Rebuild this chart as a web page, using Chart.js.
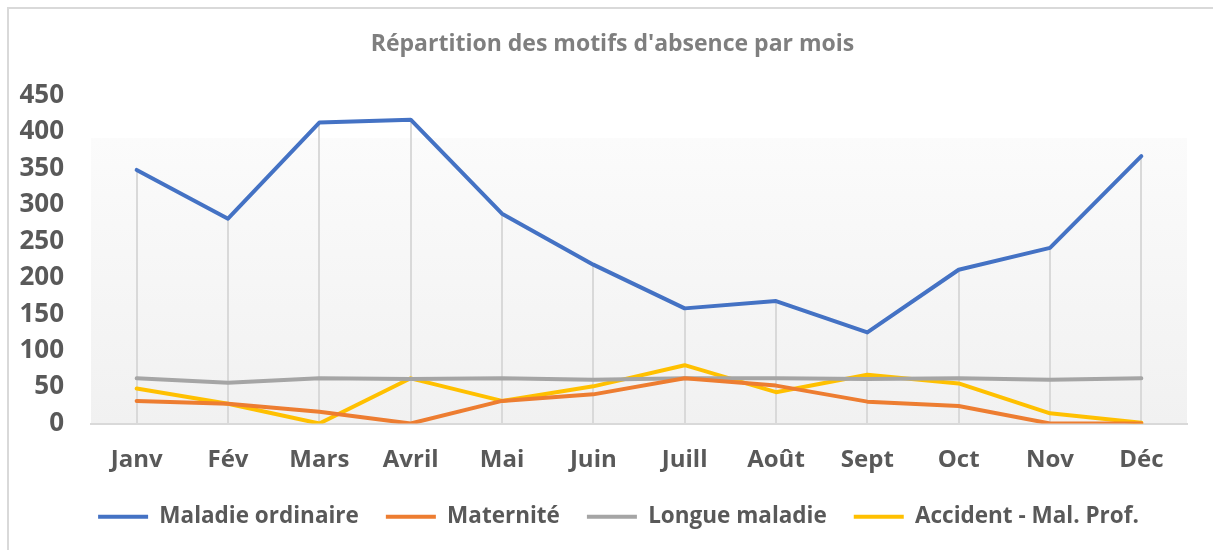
<!DOCTYPE html>
<html lang="fr">
<head>
<meta charset="utf-8">
<title>Répartition des motifs d'absence par mois</title>
<script src="https://cdn.jsdelivr.net/npm/chart.js@4.4.1/dist/chart.umd.min.js"></script>
<style>
  html, body { margin: 0; padding: 0; background: #fff; }
  #wrap { position: relative; width: 1213px; height: 550px; }
</style>
</head>
<body>
<div id="wrap"><canvas id="absences"></canvas></div>
<script>
'use strict';

var months = ['Janv', 'Fév', 'Mars', 'Avril', 'Mai', 'Juin', 'Juill', 'Août', 'Sept', 'Oct', 'Nov', 'Déc'];
var maladieOrdinaire = [348, 281, 413, 417, 288, 218, 158, 168, 125, 211, 241, 367];
var maternite = [31, 27, 16, 0, 31, 40, 62, 52, 30, 24, 0, 0];
var longueMaladie = [62, 56, 62, 61, 62, 60, 62, 62, 61, 62, 60, 62];
var accident = [48, 27, 0, 62, 31, 51, 80, 43, 67, 55, 14, 1];
var yTicks = [0, 50, 100, 150, 200, 250, 300, 350, 400, 450];

var fontFamily = "'Open Sans', Lato, sans-serif";
var textColor = '#595959';
var lineColor = '#d9d9d9';
var legendShift = 25;
var titleShift = 19;

// light frame, plot background and drop lines under the series
var backdrop = {
  id: 'backdrop',
  afterLayout: function (chart) {
    // title and legend sit a little right of the canvas centre
    chart.legend.left += legendShift;
    chart.legend.right += legendShift;
    chart.titleBlock.left += titleShift;
    chart.titleBlock.right += titleShift;
  },
  beforeDraw: function (chart) {
    var ctx = chart.ctx;
    var area = chart.chartArea;
    ctx.save();
    ctx.strokeStyle = lineColor;
    ctx.lineWidth = 2;
    ctx.beginPath();
    ctx.moveTo(8, chart.height);
    ctx.lineTo(8, 8);
    ctx.lineTo(chart.width, 8);
    ctx.stroke();

    var yTop = chart.scales.y.getPixelForValue(400) + 6;
    var grad = ctx.createLinearGradient(0, yTop, 0, area.bottom);
    grad.addColorStop(0, '#fbfbfb');
    grad.addColorStop(1, '#f1f1f1');
    ctx.fillStyle = grad;
    ctx.fillRect(area.left, yTop, area.right - area.left, area.bottom - yTop);
    ctx.restore();
  },
  beforeDatasetsDraw: function (chart) {
    var ctx = chart.ctx;
    var x = chart.scales.x;
    var y = chart.scales.y;
    ctx.save();
    ctx.strokeStyle = lineColor;
    ctx.lineWidth = 2;
    for (var i = 0; i < months.length; i++) {
      var top = Math.max(maladieOrdinaire[i], maternite[i], longueMaladie[i], accident[i]);
      var px = Math.round(x.getPixelForValue(i));
      ctx.beginPath();
      ctx.moveTo(px, y.getPixelForValue(top));
      ctx.lineTo(px, y.getPixelForValue(0));
      ctx.stroke();
    }
    ctx.restore();
  }
};

function series(label, data, color) {
  return {
    label: label,
    data: data,
    borderColor: color,
    backgroundColor: color,
    borderWidth: 4,
    borderCapStyle: 'round',
    borderJoinStyle: 'round',
    pointRadius: 0,
    pointHoverRadius: 0,
    tension: 0,
    fill: false
  };
}

new Chart(document.getElementById('absences'), {
  type: 'line',
  data: {
    labels: months,
    datasets: [
      series('Maladie ordinaire', maladieOrdinaire, '#4472c4'),
      series('Maternité', maternite, '#ed7d31'),
      series('Longue maladie', longueMaladie, '#a5a5a5'),
      series('Accident - Mal. Prof.', accident, '#ffc000')
    ]
  },
  options: {
    responsive: true,
    maintainAspectRatio: false,
    animation: false,
    events: [],
    layout: { padding: { top: 0, left: 0, right: 26, bottom: 12 } },
    plugins: {
      tooltip: { enabled: false },
      title: {
        display: true,
        text: "Répartition des motifs d'absence par mois",
        color: '#7f7f7f',
        font: { family: fontFamily, size: 23, weight: 'bold' },
        padding: { top: 31, bottom: 37 }
      },
      legend: {
        position: 'bottom',
        labels: {
          usePointStyle: true,
          pointStyle: 'line',
          pointStyleWidth: 50,
          color: textColor,
          padding: 27,
          font: { family: fontFamily, size: 22.5, weight: 'bold' }
        }
      }
    },
    scales: {
      x: {
        offset: true,
        grid: { display: false, drawTicks: false },
        border: { display: true, color: lineColor, width: 2 },
        ticks: {
          color: textColor,
          padding: 22,
          font: { family: fontFamily, size: 24, weight: 'bold' }
        },
        afterFit: function (scale) { scale.height = 55; }
      },
      y: {
        min: 0,
        max: 450,
        afterBuildTicks: function (scale) {
          scale.ticks = yTicks.map(function (v) { return { value: v }; });
        },
        grid: { display: false, drawTicks: false },
        border: { display: false },
        ticks: {
          color: textColor,
          padding: 27,
          font: { family: fontFamily, size: 26, weight: 'bold' }
        },
        afterFit: function (scale) { scale.width = 91; }
      }
    }
  },
  plugins: [backdrop]
});
</script>
</body>
</html>
